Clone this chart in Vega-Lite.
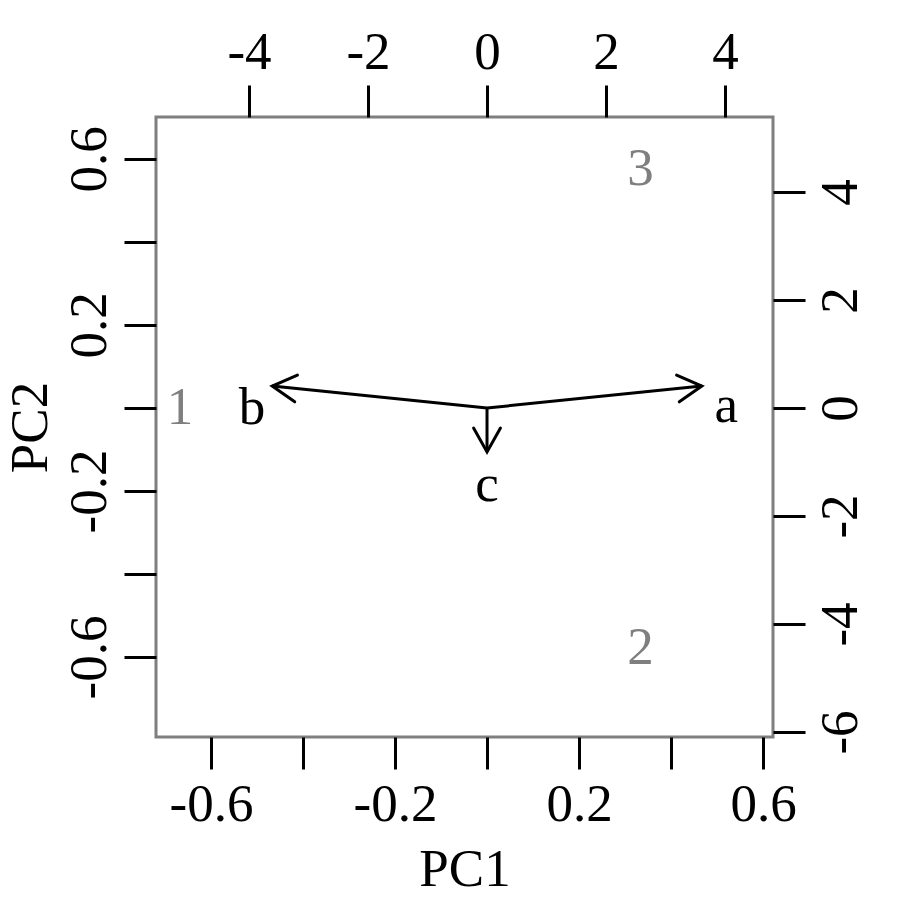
{
  "$schema": "https://vega.github.io/schema/vega-lite/v6.json",
  "width": 617,
  "height": 620,
  "autosize": "none",
  "padding": {"left": 156, "top": 117, "right": 127, "bottom": 163},
  "background": "white",
  "config": {
    "font": "Liberation Serif",
    "view": {"stroke": "#7f7f7f", "strokeWidth": 3},
    "axis": {
      "domain": false,
      "grid": false,
      "tickColor": "black",
      "tickWidth": 3,
      "tickSize": 32,
      "labelFont": "Liberation Serif",
      "labelFontSize": 53,
      "labelColor": "black",
      "labelOverlap": false,
      "labelFlush": false,
      "titleFont": "Liberation Serif",
      "titleFontSize": 53,
      "titleFontWeight": "normal",
      "titleColor": "black"
    }
  },
  "datasets": {
    "scores": [
      {"obs": "1", "s1": -5.16, "s2": 0.0},
      {"obs": "2", "s1": 2.58, "s2": -4.44},
      {"obs": "3", "s1": 2.58, "s2": 4.42}
    ],
    "loadings": [
      {"var": "a", "l1": 0.467, "l2": 0.053, "t1": 0.52, "t2": 0.005},
      {"var": "b", "l1": -0.467, "l2": 0.053, "t1": -0.511, "t2": 0.0},
      {"var": "c", "l1": 0.0, "l2": -0.106, "t1": 0.0, "t2": -0.185}
    ]
  },
  "layer": [
    {
      "data": {"name": "scores"},
      "mark": {"type": "text", "fontSize": 53, "color": "#7f7f7f", "align": "center", "baseline": "middle", "font": "Liberation Serif"},
      "encoding": {
        "x": {
          "field": "s1", "type": "quantitative",
          "scale": {"domain": [-5.563, 4.807], "nice": false, "zero": false},
          "axis": {
            "orient": "top", "title": null,
            "values": [-4, -2, 0, 2, 4],
            "labelExpr": "(datum.value < 0 ? '-' : '') + format(abs(datum.value), 'd')",
            "labelPadding": 6
          }
        },
        "y": {
          "field": "s2", "type": "quantitative",
          "scale": {"domain": [-6.093, 5.389], "nice": false, "zero": false},
          "axis": {
            "orient": "right", "title": null,
            "values": [-6, -4, -2, 0, 2, 4],
            "labelAngle": -90,
            "labelExpr": "(datum.value < 0 ? '-' : '') + format(abs(datum.value), 'd')",
            "labelPadding": 9
          }
        },
        "text": {"field": "obs"}
      }
    },
    {
      "data": {"name": "loadings"},
      "layer": [
        {
          "mark": {"type": "rule", "color": "black", "strokeWidth": 3},
          "encoding": {
            "x": {
              "field": "l1", "type": "quantitative", "title": "PC1",
              "scale": {"domain": [-0.7196, 0.6217], "nice": false, "zero": false},
              "axis": {
                "orient": "bottom",
                "values": [-0.6, -0.4, -0.2, 0, 0.2, 0.4, 0.6],
                "labelExpr": "abs(round(datum.value * 10)) % 4 == 2 ? (datum.value < 0 ? '-' : '') + format(abs(datum.value), '.1f') : ''",
                "labelPadding": 9,
                "titlePadding": 12
              }
            },
            "y": {
              "field": "l2", "type": "quantitative", "title": "PC2",
              "scale": {"domain": [-0.7928, 0.7012], "nice": false, "zero": false},
              "axis": {
                "orient": "left",
                "values": [-0.6, -0.4, -0.2, 0, 0.2, 0.4, 0.6],
                "labelAngle": -90,
                "labelExpr": "abs(round(datum.value * 10)) % 4 == 2 ? (datum.value < 0 ? '-' : '') + format(abs(datum.value), '.1f') : ''",
                "labelPadding": 8,
                "titlePadding": 6
              }
            },
            "x2": {"datum": 0},
            "y2": {"datum": 0}
          }
        },
        {
          "transform": [
            {"calculate": "atan2(-datum.l2 * 415, datum.l1 * 460) * 180 / PI", "as": "ang"}
          ],
          "mark": {"type": "point", "shape": "M-1,-0.56L0,0L-1,0.56", "filled": false, "stroke": "black", "strokeWidth": 3, "size": 2304, "opacity": 1, "strokeCap": "round", "strokeJoin": "miter"},
          "encoding": {
            "x": {"field": "l1", "type": "quantitative", "title": "PC1", "scale": {"domain": [-0.7196, 0.6217], "nice": false, "zero": false}},
            "y": {"field": "l2", "type": "quantitative", "title": "PC2", "scale": {"domain": [-0.7928, 0.7012], "nice": false, "zero": false}},
            "angle": {"field": "ang", "type": "quantitative", "scale": null}
          }
        },
        {
          "mark": {"type": "text", "fontSize": 53, "color": "black", "align": "center", "baseline": "middle", "font": "Liberation Serif"},
          "encoding": {
            "x": {"field": "t1", "type": "quantitative", "title": "PC1", "scale": {"domain": [-0.7196, 0.6217], "nice": false, "zero": false}},
            "y": {"field": "t2", "type": "quantitative", "title": "PC2", "scale": {"domain": [-0.7928, 0.7012], "nice": false, "zero": false}},
            "text": {"field": "var"}
          }
        }
      ]
    }
  ],
  "resolve": {"scale": {"x": "independent", "y": "independent"}, "axis": {"x": "independent", "y": "independent"}}
}
